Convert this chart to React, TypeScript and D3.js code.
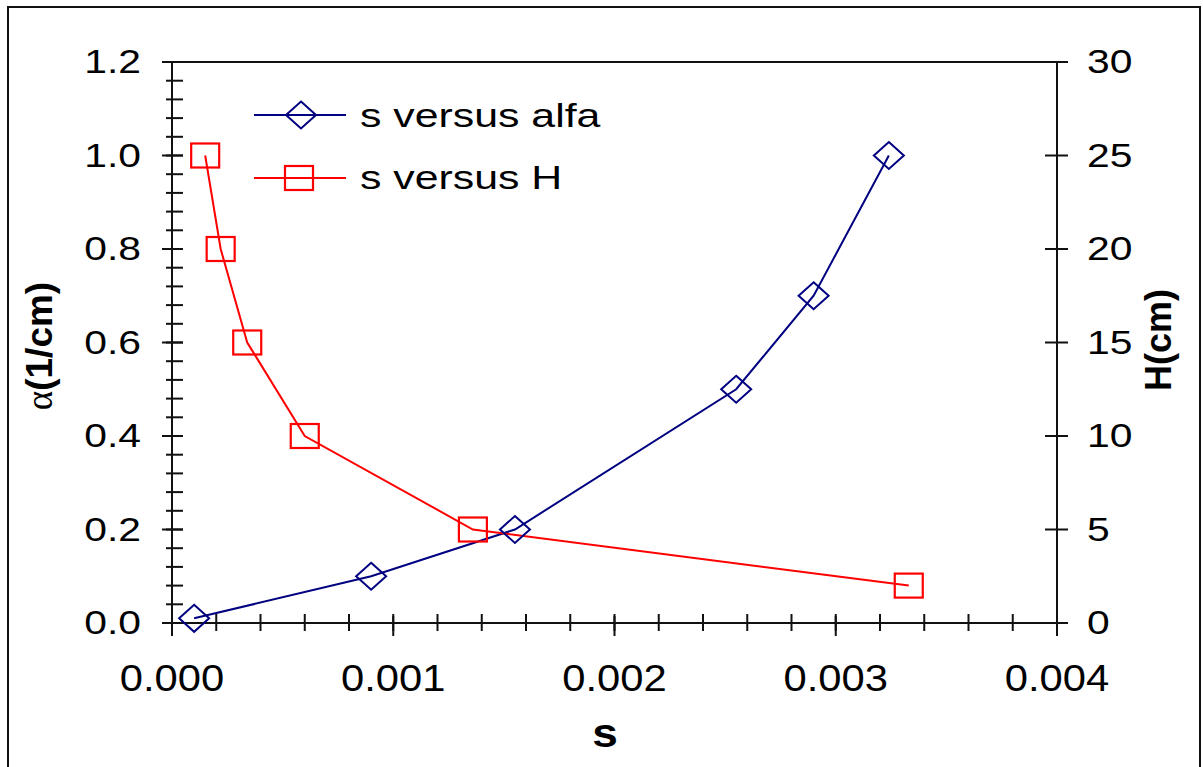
import React from 'react';
import * as d3 from 'd3';

// s versus alfa (left axis)
const alfaS = [0.0001, 0.0009, 0.00155, 0.00255, 0.0029, 0.00324];
const alfaValues = [0.01, 0.1, 0.2, 0.5, 0.7, 1.0];

// s versus H (right axis)
const hS = [0.00015, 0.00022, 0.00034, 0.0006, 0.00136, 0.00333];
const hValues = [25, 20, 15, 10, 5, 2];

const xTicks = [0, 0.001, 0.002, 0.003, 0.004];
const leftTicks = [0, 0.2, 0.4, 0.6, 0.8, 1.0, 1.2];
const rightTicks = [0, 5, 10, 15, 20, 25, 30];

const seriesNames = ['s versus alfa', 's versus H'];

const W = 1203;
const H = 767;
const FONT = '"Liberation Sans", Arial, sans-serif';
const AXIS = '#111';
const BLUE = '#000080';
const RED = '#ff0000';

function StretchText({ x, y, sx = 1.2, size, anchor = 'start', weight = 'normal', children }: any) {
  return (
    <g transform={`translate(${x},${y}) scale(${sx},1)`}>
      <text x={0} y={0} fontSize={size} fontFamily={FONT} fontWeight={weight} textAnchor={anchor} fill="#000">
        {children}
      </text>
    </g>
  );
}

function Diamond({ cx, cy }: { cx: number; cy: number }) {
  const w = 15, h = 13.5;
  return (
    <path
      d={`M${cx},${cy - h}L${cx + w},${cy}L${cx},${cy + h}L${cx - w},${cy}Z`}
      fill="none"
      stroke={BLUE}
      strokeWidth={2}
    />
  );
}

function Square({ cx, cy }: { cx: number; cy: number }) {
  return <rect x={cx - 14} y={cy - 12} width={28} height={24} fill="none" stroke={RED} strokeWidth={2.2} />;
}

export default function App() {
  const left = 172, right = 1057, top = 62, bottom = 623;

  const x = d3.scaleLinear().domain([0, 0.004]).range([left, right]);
  const yL = d3.scaleLinear().domain([0, 1.2]).range([bottom, top]);
  const yR = d3.scaleLinear().domain([0, 30]).range([bottom, top]);

  const xMinor = d3.range(0, 0.0040001, 0.0002);
  const yMinor = d3.range(0, 1.20001, 0.04);

  const alfaPts = alfaS.map((s, i) => [x(s), yL(alfaValues[i])] as [number, number]);
  const hPts = hS.map((s, i) => [x(s), yR(hValues[i])] as [number, number]);
  const line = d3.line();

  const fmtX = d3.format('.3f');
  const fmtL = d3.format('.1f');

  return (
    <div style={{ position: 'fixed', left: 0, top: 0 }}>
      <svg width={W} height={H} style={{ display: 'block', background: '#fff' }}>
        {/* chart frame */}
        <rect x={8} y={7} width={1192} height={820} fill="none" stroke="#111" strokeWidth={2} />

        {/* plot area top border */}
        <line x1={left} x2={right} y1={top} y2={top} stroke={AXIS} strokeWidth={2} />

        {/* left axis */}
        <line x1={left} x2={left} y1={top} y2={bottom} stroke={AXIS} strokeWidth={2} />
        {yMinor.map((v, i) => (
          <line key={'lm' + i} x1={left - 6} x2={left + 11} y1={yL(v)} y2={yL(v)} stroke={AXIS} strokeWidth={2} />
        ))}
        {leftTicks.map((v) => (
          <g key={'lt' + v}>
            <line x1={left - 10} x2={left + 11} y1={yL(v)} y2={yL(v)} stroke={AXIS} strokeWidth={2} />
            <StretchText x={141} y={yL(v) + 11} size={34} anchor="end">{fmtL(v)}</StretchText>
          </g>
        ))}

        {/* right axis */}
        <line x1={right} x2={right} y1={top} y2={bottom} stroke={AXIS} strokeWidth={2} />
        {rightTicks.map((v) => (
          <g key={'rt' + v}>
            <line x1={right - 12} x2={right + 11} y1={yR(v)} y2={yR(v)} stroke={AXIS} strokeWidth={2} />
            <StretchText x={1087} y={yR(v) + 11} size={34} anchor="start">{v}</StretchText>
          </g>
        ))}

        {/* bottom axis */}
        <line x1={left} x2={right} y1={bottom} y2={bottom} stroke={AXIS} strokeWidth={2} />
        {xMinor.map((v, i) => (
          <line key={'xm' + i} x1={x(v)} x2={x(v)} y1={bottom - 9} y2={bottom + 8} stroke={AXIS} strokeWidth={2} />
        ))}
        {xTicks.map((v) => (
          <g key={'xt' + v}>
            <line x1={x(v)} x2={x(v)} y1={bottom - 7} y2={bottom + 13} stroke={AXIS} strokeWidth={2} />
            <StretchText x={x(v)} y={691} size={36} sx={1.16} anchor="middle">{fmtX(v)}</StretchText>
          </g>
        ))}

        {/* series */}
        <path d={line(alfaPts) || ''} fill="none" stroke={BLUE} strokeWidth={2} />
        <path d={line(hPts) || ''} fill="none" stroke={RED} strokeWidth={2} />
        {alfaPts.map(([px, py], i) => <Diamond key={'d' + i} cx={px} cy={py} />)}
        {hPts.map(([px, py], i) => <Square key={'s' + i} cx={px} cy={py} />)}

        {/* legend */}
        <line x1={254} x2={346} y1={115} y2={115} stroke={BLUE} strokeWidth={2} />
        <Diamond cx={301} cy={115} />
        <StretchText x={360} y={127} size={34} sx={1.26}>{seriesNames[0]}</StretchText>
        <line x1={254} x2={346} y1={178} y2={178} stroke={RED} strokeWidth={2} />
        <Square cx={299} cy={178} />
        <StretchText x={360} y={189} size={34} sx={1.26}>{seriesNames[1]}</StretchText>

        {/* axis titles */}
        <g transform="translate(52,346) rotate(-90)">
          <text textAnchor="middle" fontSize={37} fontFamily={FONT} fontWeight="bold" fill="#000">
            <tspan fontFamily='"Liberation Serif", serif' fontWeight="normal">α</tspan>(1/cm)
          </text>
        </g>
        <g transform="translate(1171,340) rotate(-90)">
          <text textAnchor="middle" fontSize={36} fontFamily={FONT} fontWeight="bold" fill="#000">H(cm)</text>
        </g>
        <StretchText x={605} y={747} size={40} sx={1.15} anchor="middle" weight="bold">s</StretchText>
      </svg>
    </div>
  );
}
